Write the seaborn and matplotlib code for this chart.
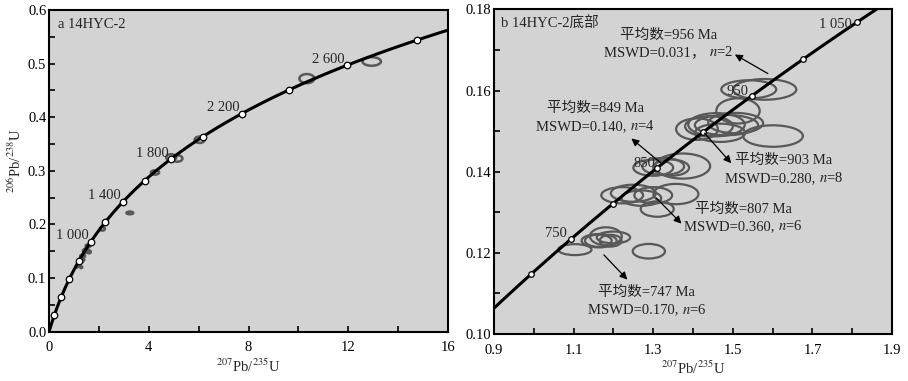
import matplotlib
matplotlib.use("Agg")
import matplotlib.pyplot as plt
import numpy as np
import pandas as pd
import seaborn as sns
from matplotlib.patches import Ellipse
from matplotlib.ticker import FixedLocator, MultipleLocator

# U decay constants (1/a), used to place ages on the concordia
L238 = 1.55125e-10
L235 = 9.8485e-10

# concordia age marks (Ma)
left_marker_ages = [200, 400, 600, 800, 1000, 1200, 1400, 1600, 1800, 2000, 2200, 2400, 2600, 2800]
left_label_ages = [1000, 1400, 1800, 2200, 2600]
right_marker_ages = [700, 750, 800, 850, 900, 950, 1000, 1050]
right_label_ages = [750, 850, 950, 1050]

# zircon error ellipses: 207Pb/235U centre, 206Pb/238U centre, full width, full height
ell_x = [1.103, 1.164, 1.181, 1.200, 1.162, 1.193, 1.289,
         1.222, 1.250, 1.270, 1.300, 1.357, 1.310,
         1.300, 1.325, 1.345, 1.374,
         1.410, 1.440, 1.459, 1.484, 1.507, 1.468, 1.513, 1.601,
         1.540, 1.580]
ell_y = [0.1208, 0.1230, 0.1241, 0.1238, 0.1230, 0.1230, 0.1204,
         0.1342, 0.1347, 0.1335, 0.1342, 0.1345, 0.1308,
         0.1410, 0.1413, 0.1410, 0.1414,
         0.1505, 0.1512, 0.1516, 0.1515, 0.1520, 0.1496, 0.1550, 0.1488,
         0.1603, 0.1603]
ell_w = [0.084, 0.088, 0.080, 0.084, 0.067, 0.055, 0.081,
         0.105, 0.113, 0.100, 0.095, 0.113, 0.083,
         0.100, 0.105, 0.090, 0.138,
         0.105, 0.120, 0.142, 0.159, 0.138, 0.126, 0.109, 0.150,
         0.138, 0.159]
ell_h = [0.0027, 0.0033, 0.0044, 0.0029, 0.0030, 0.0029, 0.0036,
         0.0040, 0.0042, 0.0038, 0.0040, 0.0050, 0.0038,
         0.0040, 0.0042, 0.0040, 0.0062,
         0.0053, 0.0050, 0.0057, 0.0050, 0.0050, 0.0045, 0.0062, 0.0053,
         0.0045, 0.0051]

# older grains, only in panel a
old_x = [2.14, 3.24, 4.25, 4.90, 5.15, 6.04, 10.34, 12.94]
old_y = [0.192, 0.2215, 0.297, 0.325, 0.323, 0.358, 0.472, 0.504]
old_w = [0.20, 0.27, 0.33, 0.40, 0.40, 0.40, 0.60, 0.74]
old_h = [0.007, 0.005, 0.008, 0.012, 0.012, 0.012, 0.017, 0.016]

# weighted mean groups
grp_age = [956, 849, 903, 807, 747]
grp_mswd = ["0.031，", "0.140,", "0.280,", "0.360,", "0.170,"]
grp_n = [2, 4, 8, 6, 6]

right_xticks = [0.9, 1.1, 1.3, 1.5, 1.7, 1.9]


def concordia(ages_ma):
    t = np.asarray(ages_ma, dtype=float) * 1e6
    return np.exp(L235 * t) - 1, np.exp(L238 * t) - 1


def age_text(a):
    return f"{a:,}".replace(",", " ")


sns.set_theme(style="ticks")
plt.rcParams["font.family"] = ["Liberation Serif", "Noto Sans CJK SC"]
plt.rcParams["mathtext.fontset"] = "stix"
plt.rcParams["axes.unicode_minus"] = False

BG = "#d3d3d3"
ELL = "#585858"
TXT = "#222222"
FS = 10.5

fig = plt.figure(figsize=(9.08, 3.81), dpi=100)
ax1 = fig.add_axes([0.054, 0.1294, 0.4394, 0.8444])
ax2 = fig.add_axes([0.5441, 0.1234, 0.4383, 0.8517])

for ax in (ax1, ax2):
    ax.set_facecolor(BG)
    for s in ax.spines.values():
        s.set_linewidth(1.5)
        s.set_color("black")
    ax.tick_params(which="both", direction="in", width=1.2, length=4,
                   colors="black", labelsize=10.5, top=False, right=False)
    ax.tick_params(axis="x", pad=7)
    ax.tick_params(axis="y", pad=2)


def draw_ellipses(ax, xs, ys, ws, hs, lw):
    for x, y, w, h in zip(xs, ys, ws, hs):
        ax.add_patch(Ellipse((x, y), w, h, facecolor="none", edgecolor=ELL,
                             lw=lw, zorder=2))


# ---- panel a ----
curve_t = np.linspace(0, 2900, 500)
cx, cy = concordia(curve_t)
sns.lineplot(x=cx, y=cy, sort=False, estimator=None, color="black", lw=2.2,
             ax=ax1, zorder=3)
draw_ellipses(ax1, ell_x, ell_y, ell_w, ell_h, 1.8)
draw_ellipses(ax1, old_x, old_y, old_w, old_h, 1.8)
mx, my = concordia(left_marker_ages)
sns.scatterplot(x=mx, y=my, s=22, color="white", edgecolor="black",
                linewidth=0.9, ax=ax1, zorder=4)
lx, ly = concordia(left_label_ages)
for a, x, y in zip(left_label_ages, lx, ly):
    ax1.annotate(age_text(a), (x, y), xytext=(-1.5, 4.2), textcoords="offset points",
                 ha="right", va="center", fontsize=FS, zorder=5)

ax1.set_xlim(0, 16)
ax1.set_ylim(0, 0.6)
ax1.xaxis.set_major_locator(MultipleLocator(4))
ax1.xaxis.set_minor_locator(MultipleLocator(2))
ax1.yaxis.set_major_locator(MultipleLocator(0.1))
ax1.yaxis.set_minor_locator(MultipleLocator(0.05))
ax1.xaxis.set_major_formatter(lambda v, p: f"{v:.0f}")
ax1.yaxis.set_major_formatter(lambda v, p: f"{v:.1f}")
ax1.text(0.022, 0.955, "a 14HYC-2", transform=ax1.transAxes, fontsize=FS,
         ha="left", va="center")
ax1.set_xlabel("$^{207}$Pb/$^{235}$U", fontsize=FS)
ax1.set_ylabel("$^{206}$Pb/$^{238}$U", fontsize=FS)
ax1.xaxis.set_label_coords(0.5, -0.082)
ax1.yaxis.set_label_coords(-0.064, 0.53)

# ---- panel b ----
curve_t2 = np.linspace(640, 1080, 200)
cx2, cy2 = concordia(curve_t2)
sns.lineplot(x=cx2, y=cy2, sort=False, estimator=None, color="black", lw=2.2,
             ax=ax2, zorder=3)
draw_ellipses(ax2, ell_x, ell_y, ell_w, ell_h, 1.6)
mx2, my2 = concordia(right_marker_ages)
sns.scatterplot(x=mx2, y=my2, s=16, color="white", edgecolor="black",
                linewidth=0.9, ax=ax2, zorder=4)
lab_offsets = {750: (-3, 3.9), 850: (-1.5, 3), 950: (-3, 3.2), 1050: (-4, -1.7)}
lx2, ly2 = concordia(right_label_ages)
for a, x, y in zip(right_label_ages, lx2, ly2):
    ax2.annotate(age_text(a), (x, y), xytext=lab_offsets[a], textcoords="offset points",
                 ha="right", va="center", fontsize=FS, zorder=5)

text_pos = [(1.339, 0.1737), (1.154, 0.1556), (1.628, 0.1427), (1.526, 0.1308), (1.284, 0.1103)]
arrows = [((1.588, 0.1642), (1.505, 0.1689)),
          ((1.320, 0.1421), (1.245, 0.1482)),
          ((1.429, 0.1495), (1.496, 0.1421)),
          ((1.308, 0.1335), (1.371, 0.1272)),
          ((1.176, 0.1195), (1.235, 0.1134))]
second_lines = []
for age, mswd, n, (tx, ty), (tail, head) in zip(grp_age, grp_mswd, grp_n, text_pos, arrows):
    ax2.text(tx, ty, f"平均数={age} Ma", ha="center", va="center",
             fontsize=FS, color=TXT, zorder=5)
    # plain part keeps the CJK comma (font fallback), italic n goes through mathtext
    part_a = ax2.text(tx, ty - 0.0044, f"MSWD={mswd} ", ha="left", va="center",
                      fontsize=FS, color=TXT, zorder=5)
    part_b = ax2.annotate(f"$n$={n}", xy=(1, 0), xycoords=part_a, ha="left",
                          va="bottom", fontsize=FS, color=TXT, zorder=5)
    second_lines.append((part_a, part_b, tx))
    ax2.annotate("", xy=head, xytext=tail,
                 arrowprops=dict(arrowstyle="-|>", color="black", lw=0.9,
                                 mutation_scale=11, shrinkA=0, shrinkB=0),
                 zorder=5)

ax2.set_xlim(0.9, 1.9)
ax2.set_ylim(0.10, 0.18)
ax2.xaxis.set_major_locator(FixedLocator(right_xticks))
ax2.xaxis.set_minor_locator(MultipleLocator(0.1))
ax2.yaxis.set_major_locator(MultipleLocator(0.02))
ax2.yaxis.set_minor_locator(MultipleLocator(0.01))
ax2.xaxis.set_major_formatter(lambda v, p: f"{v:.1f}")
ax2.yaxis.set_major_formatter(lambda v, p: f"{v:.2f}")
ax2.text(0.018, 0.955, "b 14HYC-2底部", transform=ax2.transAxes, fontsize=FS,
         ha="left", va="center")
ax2.set_xlabel("$^{207}$Pb/$^{235}$U", fontsize=FS)
ax2.set_ylabel("")
ax2.xaxis.set_label_coords(0.5, -0.078)

# centre each two-part line on its target x
fig.canvas.draw()
renderer = fig.canvas.get_renderer()
inv = ax2.transData.inverted()
for part_a, part_b, tx in second_lines:
    ba = part_a.get_window_extent(renderer)
    bb = part_b.get_window_extent(renderer)
    width = bb.x1 - ba.x0
    cx_px, cy_px = ax2.transData.transform((tx, part_a.get_position()[1]))
    new_x, _ = inv.transform((cx_px - width / 2, cy_px))
    part_a.set_x(new_x)

fig.savefig("out.png", dpi=100, facecolor="white")
